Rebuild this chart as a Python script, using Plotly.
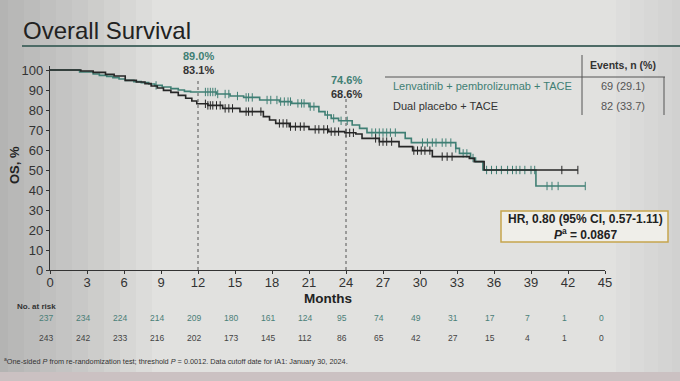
import numpy as np
import plotly.graph_objects as go

# ---------------- data ----------------
months_ticks = list(range(0, 46, 3))
os_ticks = list(range(0, 101, 10))

# Lenvatinib + pembrolizumab + TACE (Kaplan-Meier steps)
len_times = [0, 2.4, 3.5, 4.0, 4.6, 5.1, 5.6, 6.1, 6.8, 7.4, 8.0, 8.5, 9.1, 9.8, 10.4, 10.9, 11.4,
             13.5, 14.6, 15.7, 17.0, 18.6, 19.6, 21.0, 21.8, 22.3, 22.8, 23.4, 24.5, 25.1, 25.7,
             28.8, 29.3, 32.9, 33.2, 34.1, 34.5, 35.1, 39.4]
len_surv = [100, 99.0, 98.0, 97.3, 96.8, 96.2, 95.5, 94.8, 94.2, 93.7, 93.0, 92.3, 91.5, 90.7, 90.0, 89.3, 89.0,
            88.0, 87.0, 86.3, 85.0, 84.2, 83.3, 81.7, 79.2, 77.5, 75.8, 74.6, 72.5, 70.8, 68.7,
            65.8, 63.7, 60.8, 58.3, 56.0, 54.2, 50.0, 42.0]
len_end = 43.4
len_censor = [8.6, 12.6, 12.8, 13.0, 13.2, 13.4, 13.6, 14.2, 14.5, 15.2, 15.9, 16.1, 16.4, 17.6, 17.9,
              18.4, 18.7, 19.0, 19.3, 19.5, 20.1, 20.4, 20.6, 21.1, 21.4, 22.5, 23.0, 23.6, 24.1,
              26.1, 26.4, 26.7, 27.0, 27.3, 27.6, 28.0, 30.2, 30.6, 31.0, 31.3, 31.8, 32.1, 32.5,
              32.9, 33.5, 33.8, 34.3, 35.4, 35.8, 36.2, 36.6, 37.1, 37.5, 37.8, 38.1, 38.5, 39.0,
              39.3, 40.3, 40.7, 41.2, 43.4]

# Dual placebo + TACE
pbo_times = [0, 2.5, 3.5, 4.5, 5.2, 6.1, 7.0, 7.7, 8.2, 8.7, 9.2, 9.8, 10.4, 11.0, 11.5, 11.9,
             12.8, 14.0, 15.4, 17.3, 17.8, 18.3, 19.4, 21.0, 22.6, 23.9, 24.8, 25.3, 26.7,
             28.3, 29.4, 31.0, 34.0, 34.4, 35.2]
pbo_surv = [100, 99.5, 98.8, 97.8, 97.0, 94.8, 94.0, 93.2, 92.0, 91.0, 89.8, 88.8, 87.3, 85.9, 84.5, 83.1,
            82.3, 80.8, 79.2, 76.7, 75.0, 73.3, 71.7, 70.3, 69.2, 68.6, 68.0, 65.8, 64.2,
            61.7, 59.7, 56.7, 55.8, 54.2, 50.0]
pbo_end = 42.8
pbo_censor = [12.6, 12.8, 13.0, 13.2, 13.5, 13.8, 14.2, 14.5, 14.8, 15.9, 16.1, 16.4, 17.1, 18.6,
              18.9, 19.2, 19.5, 19.9, 20.3, 20.6, 21.5, 21.8, 22.2, 22.5, 22.8, 23.1, 23.4, 24.0,
              24.3, 24.6, 26.4, 26.7, 27.0, 27.3, 27.7, 29.5, 29.8, 30.1, 30.4, 30.8, 31.8, 32.2,
              32.6, 41.5, 42.8]

landmarks = [12, 24]
len_landmark_labels = ["89.0%", "74.6%"]
pbo_landmark_labels = ["83.1%", "68.6%"]

risk_len = [237, 234, 224, 214, 209, 180, 161, 124, 95, 74, 49, 31, 17, 7, 1, 0]
risk_pbo = [243, 242, 233, 216, 202, 173, 145, 112, 86, 65, 42, 27, 15, 4, 1, 0]

arm_names = ["Lenvatinib + pembrolizumab + TACE", "Dual placebo + TACE"]
arm_events = ["69 (29.1)", "82 (33.7)"]

# ---------------- layout helpers ----------------
W, H = 680, 381
L, R, T, B = 50, 75, 66, 111
PW, PH = W - L - R, H - T - B


def px(x):
    return (x - L) / PW


def py(y):
    return (H - B - y) / PH


GREEN = "#3f7f74"
BLACK = "#262626"
FONT = "Liberation Sans, Arial, sans-serif"


def step_at(times, surv, t):
    i = np.searchsorted(np.array(times), t, side="right") - 1
    return np.array(surv)[i]


fig = go.Figure()

for times, surv, end, cens, col, name in [
    (len_times, len_surv, len_end, len_censor, GREEN, arm_names[0]),
    (pbo_times, pbo_surv, pbo_end, pbo_censor, BLACK, arm_names[1]),
]:
    fig.add_trace(go.Scatter(x=times + [end], y=surv + [surv[-1]], mode="lines",
                             line=dict(color=col, width=1.6, shape="hv"), name=name,
                             showlegend=False, hoverinfo="skip"))
    fig.add_trace(go.Scatter(x=cens, y=step_at(times, surv, cens), mode="markers",
                             marker=dict(symbol="line-ns", size=6, line=dict(color=col, width=1)),
                             showlegend=False, hoverinfo="skip"))

shapes = []
# background vignette (photo of a slide)
for i in range(10):
    shapes.append(dict(type="rect", xref="paper", yref="paper", x0=px(0), x1=px(8 + i * 16),
                       y0=py(H), y1=py(0), fillcolor="#6a6a6a", opacity=0.04, line_width=0, layer="below"))
for i in range(5):
    shapes.append(dict(type="rect", xref="paper", yref="paper", x0=px(W - 8 - i * 14), x1=px(W),
                       y0=py(H), y1=py(0), fillcolor="#707070", opacity=0.03, line_width=0, layer="below"))
shapes.append(dict(type="rect", xref="paper", yref="paper", x0=px(0), x1=px(W),
                   y0=py(H), y1=py(372), fillcolor="#cbc1c2", line_width=0, layer="below"))
# title rule
shapes.append(dict(type="line", xref="paper", yref="paper", x0=px(22), x1=px(W), y0=py(46), y1=py(46),
                   line=dict(color="#4d6b66", width=2)))
# landmark dashed lines
for lm, top in zip(landmarks, [96, 86]):
    shapes.append(dict(type="line", xref="x", yref="y", x0=lm, x1=lm, y0=0, y1=top,
                       line=dict(color="#555555", width=1, dash="dot")))
# events table lines
shapes.append(dict(type="line", xref="paper", yref="paper", x0=px(385), x1=px(665), y0=py(77), y1=py(77),
                   line=dict(color="#555555", width=1)))
shapes.append(dict(type="line", xref="paper", yref="paper", x0=px(582), x1=px(582), y0=py(55), y1=py(115),
                   line=dict(color="#555555", width=1)))
shapes.append(dict(type="line", xref="paper", yref="paper", x0=px(664), x1=px(664), y0=py(77), y1=py(115),
                   line=dict(color="#555555", width=1)))
# HR box
shapes.append(dict(type="rect", xref="paper", yref="paper", x0=px(501), x1=px(668), y0=py(242), y1=py(211),
                   line=dict(color="#c6a54e", width=1.5), fillcolor="#efeee9"))


def A(text, x, y, size, color, xanchor="center", xref="paper", **kw):
    return dict(text=text, xref=xref, yref="paper", x=x, y=y, xanchor=xanchor, yanchor="middle",
                showarrow=False, font=dict(size=size, color=color, family=FONT), **kw)


ann = []
ann.append(A("Overall Survival", px(21), py(31), 24, "#222222", xanchor="left"))
for lm, gl, bl, yy in zip(landmarks, len_landmark_labels, pbo_landmark_labels, [56, 80]):
    ann.append(A("<b>%s</b>" % gl, lm, py(yy), 11, GREEN, xref="x"))
    ann.append(A("<b>%s</b>" % bl, lm, py(yy + 14), 11, "#333333", xref="x"))
ann.append(A("<b>Events, n (%)</b>", px(623), py(65), 10.5, "#333333"))
for i, (nm, ev, col) in enumerate(zip(arm_names, arm_events, [GREEN, "#333333"])):
    yy = 86 + i * 20
    ann.append(A(nm, px(391), py(yy), 11, col, xanchor="left"))
    ann.append(A(ev, px(623), py(yy), 11, "#555555"))
ann.append(A("<b>HR, 0.80 (95% CI, 0.57-1.11)</b>", px(585), py(219), 12, "#222222"))
ann.append(A("<b><i>P</i><sup>a</sup> = 0.0867</b>", px(585), py(234), 12, "#222222"))
ann.append(A("<b>Months</b>", px(328), py(298.5), 13.5, "#222222"))
ann.append(A("<b>OS, %</b>", px(14), py(165), 13, "#222222", textangle=-90))
ann.append(A("<b>No. at risk</b>", px(15), py(306), 8, "#333333", xanchor="left"))
for t, a, b in zip(months_ticks, risk_len, risk_pbo):
    ann.append(A(str(a), t, py(318), 8.5, "#4a7f78", xref="x", xshift=-4))
    ann.append(A(str(b), t, py(338), 8.5, "#444444", xref="x", xshift=-4))
ann.append(A("<sup>a</sup>One-sided <i>P</i> from re-randomization test; threshold <i>P</i> = 0.0012. "
             "Data cutoff date for IA1: January 30, 2024.", px(2), py(361), 7.3, "#333333", xanchor="left"))

axis_common = dict(showgrid=False, zeroline=False, showline=True, linecolor="#333333", linewidth=1.2,
                   ticks="outside", ticklen=3, tickcolor="#333333",
                   tickfont=dict(size=13, color="#333333", family=FONT))

fig.update_layout(
    width=W, height=H,
    margin=dict(l=L, r=R, t=T, b=B),
    paper_bgcolor="#e1e1df", plot_bgcolor="rgba(0,0,0,0)",
    xaxis=dict(range=[0, 45], tickvals=months_ticks, ticklabelstandoff=-3, **axis_common),
    yaxis=dict(range=[0, 102], tickvals=os_ticks, **axis_common),
    shapes=shapes, annotations=ann, showlegend=False,
)

fig.write_html("out.html", config={"displayModeBar": False},
               post_script="document.body.style.margin='0px';document.body.style.overflow='hidden';")
